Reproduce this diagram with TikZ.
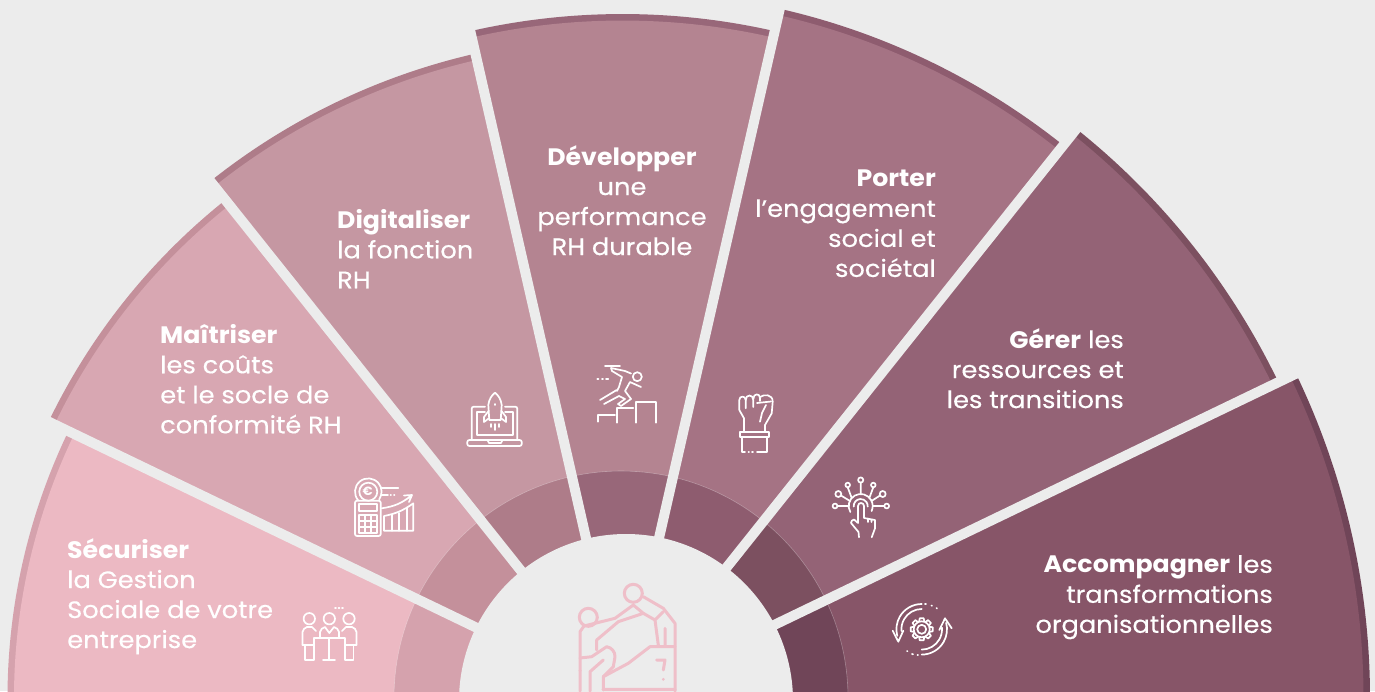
\documentclass[tikz,border=0pt]{standalone}
\usepackage{fontspec}
\setmainfont{Poppins}[FakeStretch=1.08, UprightFeatures={FakeBold=0.35}, BoldFeatures={FakeStretch=1.06}]
\definecolor{bgGrey}{HTML}{ECECEC}
\definecolor{secA}{HTML}{ECB9C3}\definecolor{rimA}{HTML}{D5A2AD}
\definecolor{secB}{HTML}{D8A7B2}\definecolor{rimB}{HTML}{C4909B}
\definecolor{secC}{HTML}{C597A2}\definecolor{rimC}{HTML}{AE7C89}
\definecolor{secD}{HTML}{B48491}\definecolor{rimD}{HTML}{986779}
\definecolor{secE}{HTML}{A57384}\definecolor{rimE}{HTML}{8E5C6F}
\definecolor{secF}{HTML}{946376}\definecolor{rimF}{HTML}{7C5060}
\definecolor{secG}{HTML}{875568}\definecolor{rimG}{HTML}{704558}
\definecolor{climbPink}{HTML}{EFBFC9}
\begin{document}
\begin{tikzpicture}[x=1pt, y=-1pt, line join=round, line cap=round, >=stealth,
	icon/.style={draw=white, line width=1.7pt},
	climb/.style={draw=climbPink, line width=3pt},
	gapline/.style={draw=bgGrey, line width=10pt, line cap=butt},
	label/.style={text=white, inner sep=0pt, font=\fontsize{23.8}{30}\selectfont}]
	\useasboundingbox (0,0) rectangle (1375,691);
	\clip (0,0) rectangle (1375,691);
	\fill[bgGrey] (0,0) rectangle (1375,691);
	\foreach \k/\rr/\base/\rim in {0/615/secA/rimA,1/637/secB/rimB,2/661/secC/rimC,3/684/secD/rimD,4/707/secE/rimE,5/728/secF/rimF,6/747.5/secG/rimG}{
		\pgfmathsetmacro\sa{180+\k*180/7}
		\pgfmathsetmacro\ea{180+(\k+1)*180/7}
		\pgfmathsetmacro\rb{\rr-6.5}
		\fill[\rim] (622.5,698) -- ++(\sa:\rr) arc[start angle=\sa, end angle=\ea, radius=\rr] -- cycle;
		\fill[\base] (622.5,698) -- ++(\sa:\rb) arc[start angle=\sa, end angle=\ea, radius=\rb] -- cycle;
		\begin{scope}
			\clip (622.5,698) -- ++(\sa:\rb) arc[start angle=\sa, end angle=\ea, radius=\rb] -- cycle;
			\fill[\rim] (621,698) circle (227);
			\draw[white, opacity=0.3, line width=0.6pt] (621,698) circle (227);
		\end{scope}
	}
	\foreach \k in {1,...,6}
		\draw[gapline] (622.5,698) -- ++({180+\k*180/7}:770);
	\fill[bgGrey] (626,701) circle (167);

	\node[label, anchor=north west, align=left] (securiser) at (67,538) {\textbf{Sécuriser}\\la Gestion\\Sociale de votre\\entreprise};
	\node[label, anchor=north west, align=left] (maitriser) at (160,324) {\textbf{Maîtriser}\\les coûts\\et le socle de\\conformité RH};
	\node[label, anchor=north west, align=left] (digitaliser) at (337,209) {\textbf{Digitaliser}\\la fonction\\RH};
	\node[label, anchor=north, align=center] (developper) at (622,145) {\textbf{Développer}\\une\\performance\\RH durable};
	\node[label, anchor=north east, align=right] (porter) at (936,170) {\textbf{Porter}\\l’engagement\\social et\\sociétal};
	\node[label, anchor=north east, align=right] (gerer) at (1124,328) {\textbf{Gérer} les\\ressources et\\les transitions};
	\node[label, anchor=north east, align=right] (accompagner) at (1273,555) {\textbf{Accompagner} les\\transformations\\organisationnelles};

	\foreach \x in {309.3,329.3,349}
		\draw[icon] (\x,618.7) circle (5.7);
	\draw[icon] (335,607.7) -- (336,607.7) (338.5,607.7) -- (339.5,607.7) (342,607.7) -- (343,607.7);
	\draw[icon] (302.5,645) -- (302.5,632) to[bend left=30] (307,627) -- (312,627) -- (316,631);
	\draw[icon] (356.5,645) -- (356.5,632) to[bend right=30] (352,627) -- (346,627) -- (342,631);
	\draw[icon] (320,638) -- (320,632) to[bend left=30] (325,627) -- (329.3,633) -- (334,627) to[bend left=30] (339,632) -- (339,638);
	\draw[icon] (302.5,645) -- (314,645) -- (314,638) -- (345,638) -- (345,645) -- (356.5,645);
	\draw[icon] (305,645) -- (305,660) -- (314,660) -- (314,645) (345,645) -- (345,660) -- (353.5,660) -- (353.5,645);
	\draw[icon] (329.3,638) -- (329.3,660) (323,660) -- (335,660);

	\draw[icon] ([shift={(140:13.3)}]368.3,491.7) arc[start angle=140, end angle=395, radius=13.3];
	\draw[icon] (368.3,491.7) circle (9);
	\node[text=white, inner sep=0pt, font=\fontsize{12}{12}\selectfont\bfseries] (euro) at (367.8,491.7) {€};
	\draw[icon, rounded corners=2pt] (355,500.7) rectangle (380.7,536);
	\draw[icon] (359.3,504) rectangle (377.3,511);
	\draw[icon] (359.3,515) rectangle (377.3,532.7) (365.3,515) -- (365.3,532.7) (371.3,515) -- (371.3,532.7) (359.3,521) -- (377.3,521) (359.3,527) -- (377.3,527);
	\draw[icon] (381,488.3) -- (398.3,488.3) (381,495) -- (388,495) (390.5,495) -- (391,495) (394,495) -- (394.5,495);
	\draw[icon] (384,530.7) -- (384,516) to[bend right=12] (413.3,503.3) -- (413.3,530.7) -- cycle;
	\draw[icon] (391.7,515) -- (391.7,530.7) (399.3,513) -- (399.3,530.7) (406.7,508) -- (406.7,530.7);
	\draw[icon] (381.7,508.3) to[bend right=15] (411.5,495.5) (404,495.5) -- (412,495) -- (409,502);

	\draw[icon, rounded corners=2pt] (485,406.7) -- (471.7,406.7) -- (471.7,440) (505,406.7) -- (517.3,406.7) -- (517.3,440);
	\draw[icon] (485,411.7) -- (476.7,411.7) -- (476.7,435) -- (513.3,435) -- (513.3,411.7) -- (505,411.7);
	\draw[icon, rounded corners=2pt] (467.3,440) -- (521.7,440) -- (521.7,446) -- (467.3,446) -- cycle;
	\draw[icon] (487.5,440) -- (489,443) -- (501,443) -- (502.5,440);
	\draw[icon] (489.3,420) -- (488.3,405) .. controls (489,399) and (492,395) .. (495,392.7) .. controls (498,395) and (501,399) .. (501.7,405) -- (500.7,420) -- cycle;
	\draw[icon] (488.5,411) -- (484,417) -- (484,422) -- (489.3,418) (501.5,411) -- (506,417) -- (506,422) -- (500.7,418);
	\draw[icon] (495,404) -- (495,405) (495,424) -- (495,430) (490.7,424) -- (490.7,427) (499.3,424) -- (499.3,427);

	\draw[icon] (637.3,376.7) circle (4.5);
	\draw[icon] (605,365.7) -- (620,365.7) (597.3,379.3) -- (598.5,379.3) (602,379.3) -- (603,379.3) (606,379.3) -- (608.3,379.3);
	\draw[icon] (600,400) -- (616.7,390) (604,404) -- (619,396);
	\draw[icon] (611,368) -- (625,371) -- (631,373.5) (611,368) -- (612,371) -- (622,377) -- (619,387) -- (617,391) (619,396) -- (625,399) -- (618,404) -- (621,406) -- (631,399) -- (625,391) -- (630,382) -- (641,387);
	\draw[icon] (598.3,421.7) -- (598.3,415) -- (615,415) (617.3,422.7) -- (617.3,408.3) -- (633.3,408.3) (635.7,422.7) -- (635.7,401.7) -- (656,401.7) -- (656,422.7);

	\draw[icon] (740,431.7) rectangle (769.3,437.3);
	\draw[icon] (745,451.7) -- (741.7,451.7) -- (741.7,437.3) (767.3,437.3) -- (767.3,451.7) -- (757,451.7) (753,451.7) -- (752,451.7) (749,451.7) -- (748.5,451.7);
	\draw[icon] (744,431.7) -- (744,418.3) -- (739.3,410) -- (739.3,400) .. controls (739.3,395.5) and (745.7,395.5) .. (745.7,400) -- (745.7,408.3);
	\draw[icon] (745.7,400) .. controls (745.7,394) and (753.3,394) .. (753.3,400) -- (753.3,407);
	\draw[icon] (753.3,399) .. controls (753.3,393) and (760,393) .. (760,398) -- (760,401);
	\draw[icon] (760,397) .. controls (764,394) and (772.7,394) .. (772.7,401.7) -- (771.7,413.3) -- (765,425) -- (765,431.7);
	\draw[icon] (757,403) -- (771,401.5) (766,405) -- (762,413) -- (760,421.7);

	\foreach \x/\y/\r in {860.7/480/2.6,847.7/485/2.3,873.3/485/2.3,838.3/494/3,882.7/494/3,835/506/2.4,886.7/506/2.4}
		\draw[icon] (\x,\y) circle (\r);
	\draw[icon] (860.7,482.6) -- (860.7,494) (847.7,487.3) -- (851.5,497.5) (873.3,487.3) -- (869.5,497.5) (841,495.5) -- (850,501) (880,495.5) -- (871.5,501) (837.4,506) -- (848.7,506) (884.3,506) -- (872.7,506);
	\draw[icon] ([shift={(150:12)}]860.7,506) arc[start angle=150, end angle=385, radius=12];
	\draw[icon] ([shift={(175:7)}]860.7,506) arc[start angle=175, end angle=365, radius=7];
	\draw[icon] (859,537.3) -- (858.5,532) -- (851,523) to[bend left=40] (854,519.5) -- (858,523) -- (858,506) .. controls (858,502) and (864,502) .. (864,506) -- (864,518) -- (875,520) -- (875,528.3) -- (871.7,537.3) (868,518.5) -- (868,522) (871.5,519.5) -- (871.5,522);

	\draw[icon] (921.7,629.3) circle (4.5) circle (8);
	\foreach \a in {0,45,...,315}
		\draw[icon, shift={(921.7,629.3)}, rotate=\a] (8,-2.5) -- (11,-2) -- (11,2) -- (8,2.5);
	\draw[icon] (921.7,604) arc[start angle=270, end angle=165, radius=25.3] (921.7,609) arc[start angle=270, end angle=175, radius=20.3];
	\draw[icon] (921.7,654.6) arc[start angle=90, end angle=-15, radius=25.3] (921.7,649.6) arc[start angle=90, end angle=-5, radius=20.3];
	\draw[icon] (892.7,630.7) -- (898.3,641.7) -- (903.3,630.7);
	\draw[icon] (951.7,628.3) -- (945,618.3) -- (939.3,630);
	\draw[icon] (925,604) -- (926,604) (931.5,605.5) -- (932,605.7) (936.5,608) -- (937,608.5) (907,651) -- (907.5,651.3) (912,654) -- (913,654.3) (917.5,655) -- (918,655);

	\draw[climb] (633.3,593.3) circle (9) (588.3,617.3) circle (9);
	\draw[climb] (580,691) -- (580,631.7) -- (584,626) -- (615,618.3) -- (633.3,605) -- (643.3,613.3) -- (618.3,621.7) -- (596.7,640) -- (596.7,650);
	\draw[climb] (580,658) -- (591.7,656.7) -- (606.7,646.7) to[bend left=40] (615,656.7) -- (613.3,666.7) -- (603.3,676.7) -- (603.3,690);
	\draw[climb] (590,691) -- (590,671.7) -- (603.3,660);
	\draw[climb] (603.3,676.7) -- (628.3,663.3) -- (650,646.7) -- (675,646.7);
	\draw[climb] (643.3,596.7) -- (663.3,608.3) -- (675,623.3) -- (675,691);
	\draw[climb] (643.3,613.3) -- (655,620) -- (658.3,645) (655,620) -- (663.3,611.7) (665,628.3) -- (665,645);
	\draw[climb] (603,689.3) -- (675,689.3) (656.7,660) -- (665,660) -- (663.3,670) (663.3,679.3) -- (663.4,679.3) (580,670.7) -- (580.1,670.7);
\end{tikzpicture}
\end{document}
